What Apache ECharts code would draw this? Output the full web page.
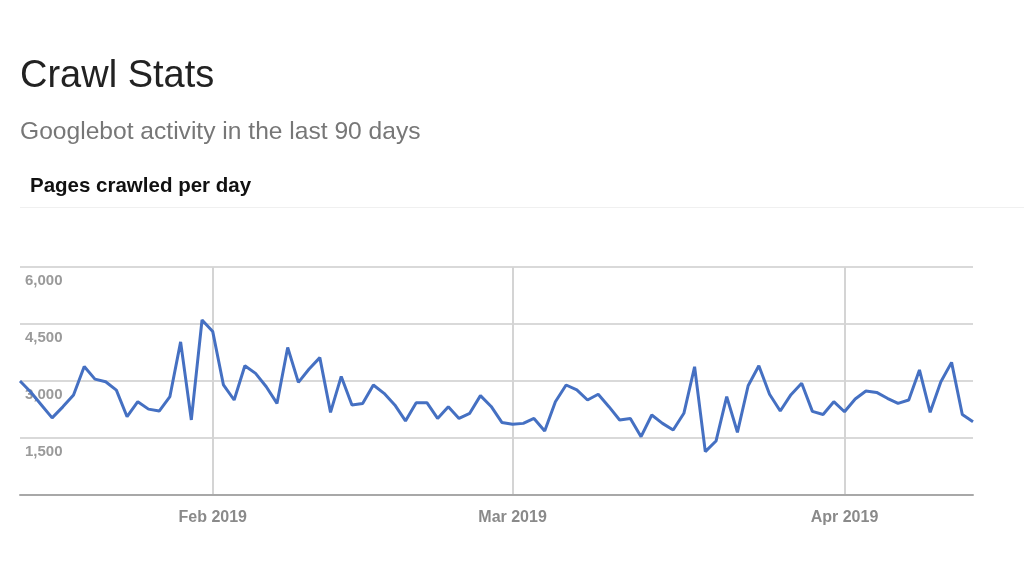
<!DOCTYPE html>
<html>
<head>
<meta charset="utf-8">
<script src="https://cdn.jsdelivr.net/npm/echarts@6/dist/echarts.min.js"></script>
<style>
html,body{margin:0;padding:0;background:#fff;}
#chart{width:1024px;height:577px;}
</style>
</head>
<body>
<div id="chart"></div>
<script>
// Data
const startDate = '2019-01-14';
const pagesCrawled = [
  3000, 2710, 2370, 2030, 2320, 2630, 3380, 3050, 2980, 2760,
  2060, 2455, 2260, 2210, 2590, 4030, 1975, 4605, 4300, 2895,
  2500, 3400, 3200, 2850, 2410, 3880, 2965, 3315, 3615, 2175,
  3120, 2370, 2410, 2895, 2675, 2370, 1950, 2430, 2430, 2015,
  2325, 2015, 2150, 2615, 2330, 1910, 1860, 1885, 2015, 1685,
  2455, 2895, 2765, 2500, 2650, 2325, 1975, 2015, 1535, 2105,
  1885, 1710, 2150, 3375, 1140, 1420, 2590, 1650, 2875, 3400,
  2650, 2210, 2640, 2940, 2200, 2120, 2455, 2190, 2525, 2735,
  2700, 2545, 2410, 2500, 3290, 2175, 2980, 3490, 2120, 1930
];
const yTicks = [0, 1500, 3000, 4500, 6000];
const monthNames = ['Jan','Feb','Mar','Apr','May','Jun','Jul','Aug','Sep','Oct','Nov','Dec'];
const titleText = 'Crawl Stats';
const subtitleText = 'Googlebot activity in the last 90 days';
const sectionText = 'Pages crawled per day';

// consecutive daily categories
const days = [];
(function(){
  const d0 = new Date(startDate + 'T00:00:00Z');
  for (let i = 0; i < pagesCrawled.length; i++) {
    const d = new Date(d0.getTime() + i * 86400000);
    days.push(d.toISOString().slice(0, 10));
  }
})();
function isMonthStart(idx) { return days[idx] && days[idx].slice(8, 10) === '01'; }
function monthLabel(v) {
  const m = parseInt(v.slice(5, 7), 10) - 1;
  return monthNames[m] + ' ' + v.slice(0, 4);
}

const chart = echarts.init(document.getElementById('chart'), null, {renderer: 'canvas'});
const font = '"Liberation Sans", Arial, Helvetica, sans-serif';
chart.setOption({
  animation: false,
  backgroundColor: '#ffffff',
  textStyle: {fontFamily: font},
  graphic: [
    {type: 'text', left: 20, top: 58, style: {text: titleText, font: '38px ' + font, fill: '#222222'}},
    {type: 'text', left: 20, top: 120, style: {text: subtitleText, font: '24.6px ' + font, fill: '#777777'}},
    {type: 'text', left: 30, top: 176, style: {text: sectionText, font: 'bold 20.5px ' + font, fill: '#111111'}},
    {type: 'line', shape: {x1: 20, y1: 207.5, x2: 1024, y2: 207.5}, style: {stroke: '#f0f0f0', lineWidth: 1}}
  ],
  grid: {left: 20, right: 51, top: 267, bottom: 82, containLabel: false},
  xAxis: {
    type: 'category',
    data: days,
    boundaryGap: false,
    axisLine: {show: true, lineStyle: {color: '#a8a8a8', width: 2}},
    axisTick: {show: false},
    splitLine: {show: true, interval: function (idx) { return isMonthStart(idx); }, lineStyle: {color: '#d4d4d4', width: 2}},
    axisLabel: {
      interval: function (idx) { return isMonthStart(idx); },
      formatter: monthLabel,
      color: '#8a8a8a', fontWeight: 'bold', fontSize: 16, margin: 15, fontFamily: font
    }
  },
  yAxis: {
    type: 'value',
    min: yTicks[0], max: yTicks[yTicks.length - 1], interval: yTicks[1] - yTicks[0],
    axisLine: {show: false},
    axisTick: {show: false},
    splitLine: {show: true, lineStyle: {color: '#d9d9d9', width: 2}},
    axisLabel: {
      inside: true, showMinLabel: false, margin: 5,
      verticalAlign: 'top', padding: [6, 0, 0, 0],
      color: '#9a9a9a', fontWeight: 'bold', fontSize: 15, fontFamily: font,
      formatter: function (v) { return v.toLocaleString('en-US'); }
    }
  },
  series: [{
    type: 'line',
    data: pagesCrawled,
    showSymbol: false,
    symbol: 'none',
    lineStyle: {color: '#4570c2', width: 3},
    z: 3
  }]
});
</script>
</body>
</html>
